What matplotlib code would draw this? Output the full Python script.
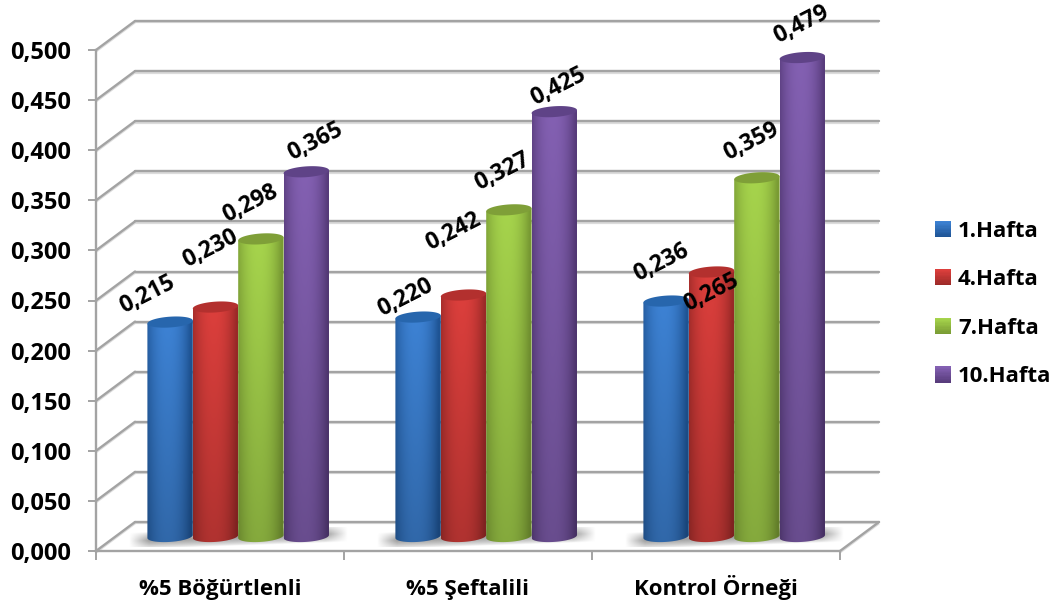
#!/usr/bin/env python3

import numpy as np
import matplotlib
matplotlib.use('Agg')
import matplotlib.pyplot as plt
from matplotlib.legend_handler import HandlerBase
from matplotlib.patches import Patch, Polygon, Rectangle
from matplotlib.ticker import FixedLocator, FuncFormatter

plt.rcParams['font.family'] = ['Open Sans', 'DejaVu Sans']
plt.rcParams['font.weight'] = 'bold'

# data
categories = ['%5 Böğürtlenli', '%5 Şeftalili', 'Kontrol Örneği']
weeks = ['1.Hafta', '4.Hafta', '7.Hafta', '10.Hafta']
week1 = [0.215, 0.220, 0.236]
week4 = [0.230, 0.242, 0.265]
week7 = [0.298, 0.327, 0.359]
week10 = [0.365, 0.425, 0.479]
y_ticks = [0.0, 0.05, 0.10, 0.15, 0.20, 0.25, 0.30, 0.35, 0.40, 0.45, 0.50]

# edge, centre and lid colours of each cylinder
edge_cols = ['#1f5596', '#9c2a28', '#7a9c34', '#583c7c']
mid_cols = ['#3d82d4', '#dc3f3c', '#a6d44c', '#8360b2']
lid_cols = ['#2766ad', '#b3302e', '#7f9f38', '#5f4387']

# label nudges from the top of each bar, in pixels (x right, y up)
label_nudge = [
    [(-23, 26), (-5, 57), (-11, 34), (9, 29)],
    [(-13, 18), (-10, 62), (-7, 37), (4, 24)],
    [(-5, 37), (0, -22), (-6, 35), (-1, 32)],
]

W, H = 1054, 608
fig = plt.figure(figsize=(W / 100, H / 100), dpi=100)
# front face of the box
ax = fig.add_axes([96 / W, 1 - 551 / H, (840 - 96) / W, (551 - 50) / H])
ax.set_xlim(0, 3)
ax.set_ylim(0, 0.5)
ax.patch.set_alpha(0)

px_x = 3 / (840 - 96)     # one pixel in x units
px_y = 0.5 / (551 - 50)   # one pixel in y units
depth_x = 39 * px_x
depth_y = 29 * px_y
GRID = '#a3a3a3'


def grid_line(xs, ys, zorder=1):
    ax.plot(xs, [y - 1.4 * px_y for y in ys], color='#dcdcdc', lw=1.6, zorder=zorder,
            clip_on=False, solid_capstyle='butt')
    ax.plot(xs, ys, color=GRID, lw=1.7, zorder=zorder + 0.1, clip_on=False,
            solid_capstyle='round')


# walls and floor
for t in y_ticks:
    grid_line([depth_x, 3 + depth_x], [t + depth_y, t + depth_y])
    grid_line([0, depth_x], [t, t + depth_y])
grid_line([3, 3 + depth_x], [0, depth_y])

# soft shadow under each group, low on the left and rising to the right
sh_y = np.linspace(0, 1, 60)
sh_x = np.linspace(0, 1, 300)
for i in range(3):
    left = i + 33 * px_x
    right = i + 252 * px_x
    xx, yy = np.meshgrid(sh_x, sh_y)
    fall_x = np.clip(xx / 0.09, 0, 1) * np.clip((1 - xx) / 0.10, 0, 1)
    centre = 0.30 + 0.38 * xx
    fall_y = np.clip(1 - np.abs(yy - centre) / 0.42, 0, 1) ** 0.7
    rgba = np.zeros((60, 300, 4))
    rgba[..., :3] = 0.58
    rgba[..., 3] = 0.9 * fall_x * fall_y
    ax.imshow(rgba, origin='lower', aspect='auto', zorder=2, clip_on=False,
              extent=[left, right, 4 * px_y, 24 * px_y], interpolation='bilinear')


def cylinder(cx, v, j):
    a = 22.7 * px_x
    b = 5.4 * px_y
    k = 1.5 * px_y
    base = 14.5 * px_y
    top = v + base - 1 * px_y

    t = np.linspace(np.pi, 2 * np.pi, 50)
    low = np.column_stack([cx + a * np.cos(t), base + b * np.sin(t) + k * np.cos(t)])
    high = np.array([[cx + a, top + k], [cx - a, top - k]])
    body = Polygon(np.vstack([low, high]), closed=True, transform=ax.transData)

    # horizontal shading, a bit darker towards the floor
    edge = np.array(matplotlib.colors.to_rgb(edge_cols[j]))
    mid = np.array(matplotlib.colors.to_rgb(mid_cols[j]))
    u = np.linspace(-1, 1, 80)
    mix = (1 - np.abs(u + 0.1) ** 2.2).clip(0, 1)[:, None]
    row = edge + (mid - edge) * mix
    fade = np.linspace(0.80, 1.0, 50)[:, None, None]
    img = row[None, :, :] * fade
    im = ax.imshow(img, origin='lower', aspect='auto', zorder=3 + j * 0.1,
                   extent=[cx - a, cx + a, base - b - k, top + k], interpolation='bilinear')
    im.set_clip_path(body)

    t = np.linspace(0, 2 * np.pi, 80)
    lid = np.column_stack([cx + a * np.cos(t), top + b * np.sin(t) + k * np.cos(t)])
    ax.add_patch(Polygon(lid, closed=True, facecolor=lid_cols[j], edgecolor='none',
                         zorder=3.05 + j * 0.1, clip_on=False))


series = [week1, week4, week7, week10]
step = 45.4 * px_x
shift = 18.2 * px_x
for i in range(len(categories)):
    for j, vals in enumerate(series):
        cx = i + 0.5 + shift + (j - 1.5) * step
        cylinder(cx, vals[i], j)
        ax.annotate(f'{vals[i]:.3f}'.replace('.', ','), (cx, vals[i] + 14.5 * px_y),
                    xytext=(label_nudge[i][j][0] * 0.72, label_nudge[i][j][1] * 0.72),
                    textcoords='offset points', ha='center', va='center', rotation=27,
                    rotation_mode='anchor', fontsize=16.5, color='black', zorder=6,
                    annotation_clip=False)

ax.set_xlim(0, 3)
ax.set_ylim(0, 0.5)

# axes
for name in ['top', 'right']:
    ax.spines[name].set_visible(False)
for name in ['left', 'bottom']:
    ax.spines[name].set_color(GRID)
    ax.spines[name].set_linewidth(1.7)
ax.set_yticks(y_ticks)
ax.yaxis.set_major_formatter(FuncFormatter(lambda v, pos: f'{v:.3f}'.replace('.', ',')))
ax.xaxis.set_major_locator(FixedLocator([0, 1, 2, 3]))
ax.xaxis.set_minor_locator(FixedLocator([0.5, 1.5, 2.5]))
ax.xaxis.set_major_formatter(FuncFormatter(lambda v, pos: ''))
ax.set_xticks([0.5, 1.5, 2.5], categories, minor=True)
ax.tick_params(axis='y', length=5.8, width=1.4, color=GRID, pad=12, labelsize=17)
ax.tick_params(axis='x', which='major', length=6.5, width=1.4, color=GRID)
ax.tick_params(axis='x', which='minor', length=0, pad=31.7, labelsize=16)
for lab in ax.get_xticklabels(minor=True):
    lab.set_va('baseline')


class GradientSquare(HandlerBase):
    # legend key shaded from top to bottom with thin strips
    def create_artists(self, legend, orig, xd, yd, width, height, fontsize, trans):
        light = np.array(matplotlib.colors.to_rgb(orig.get_facecolor()))
        dark = np.array(matplotlib.colors.to_rgb(orig.get_edgecolor()))
        size = 16 * 0.72
        n = 12
        out = []
        for s in range(n):
            col = dark + (light - dark) * s / (n - 1)
            r = Rectangle((xd * -1, -yd + (height - size) / 2 + s * size / n), size,
                          size / n + 0.2, facecolor=col, edgecolor='none', transform=trans)
            out.append(r)
        return out


handles = [Patch(facecolor=mid_cols[j], edgecolor=edge_cols[j], label=weeks[j]) for j in range(4)]
fig.legend(handles=handles, loc='center left', bbox_to_anchor=(935 / W, 1 - 304 / H),
           handler_map={Patch: GradientSquare()}, frameon=False, fontsize=16,
           handlelength=0.7, handletextpad=0.335, labelspacing=1.24, borderpad=0, borderaxespad=0)

plt.savefig('out.png', dpi=100)
